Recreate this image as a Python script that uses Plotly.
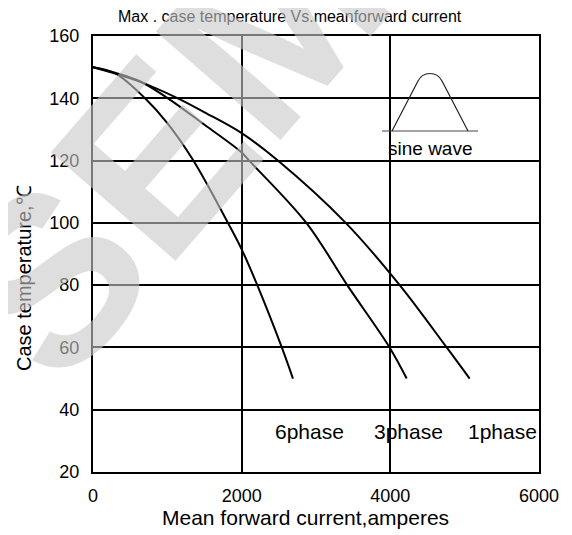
import plotly.graph_objects as go

# ---- data ----
x_6phase = [0, 300, 700, 1000, 1350, 1815, 2000, 2210, 2540, 2690]
y_6phase = [150, 148, 140, 132, 120, 100, 91.5, 80, 60, 50]

x_3phase = [0, 600, 1008, 1500, 2000, 2100, 2870, 3420, 3990, 4220]
y_3phase = [150, 145.8, 140, 131.5, 122.6, 120, 100, 80, 60, 50]

x_1phase = [0, 600, 1142, 1500, 2000, 2487, 3400, 4126, 4758, 5067]
y_1phase = [150, 145.6, 140, 135.5, 128.8, 120, 100, 80, 60, 50]

series_names = ["6phase", "3phase", "1phase"]
label_x = [2919, 4238, 5503]
label_y = [33, 33, 33]

x_ticks = [0, 2000, 4000, 6000]
y_ticks = [20, 40, 60, 80, 100, 120, 140, 160]

# page geometry (the page body adds an 8px offset)
OFF = 8
W, H = 572 - OFF, 535 - OFF
L, R, T, B = 93, 539, 36, 472   # plot area in page pixels

def px(xp):
    return (xp - L) / (R - L)

def py(yp):
    return (B - yp) / (B - T)

REG = "Liberation Sans, Arial, sans-serif"

fig = go.Figure()
for xs, ys, nm in zip([x_6phase, x_3phase, x_1phase],
                      [y_6phase, y_3phase, y_1phase], series_names):
    fig.add_trace(go.Scatter(x=xs, y=ys, mode="lines", name=nm,
                             line=dict(color="black", width=2, shape="spline", smoothing=1.0),
                             showlegend=False, hoverinfo="skip"))

axis_common = dict(showline=True, linecolor="black", linewidth=2, mirror=True,
                   showgrid=True, gridcolor="black", gridwidth=2, zeroline=False,
                   ticks="", tickfont=dict(family=REG, size=18, color="black"))

fig.update_xaxes(range=[0, 6000], tickvals=x_ticks, ticktext=[str(v) for v in x_ticks],
                 ticklabelstandoff=6, **axis_common)
fig.update_yaxes(range=[20, 160], tickvals=y_ticks, ticktext=[str(v) for v in y_ticks],
                 ticklabelstandoff=8, **axis_common)

shapes = []
# white box hiding gridlines behind the inset
shapes.append(dict(type="rect", xref="paper", yref="paper",
                   x0=px(375), x1=px(481), y0=py(157), y1=py(67),
                   fillcolor="white", line=dict(width=0), layer="between"))
# baseline of sine wave inset
shapes.append(dict(type="line", xref="paper", yref="paper",
                   x0=px(382), x1=px(478), y0=py(131), y1=py(131),
                   line=dict(color="#444", width=1)))
pts = [(392, 131), (418, 81), (423, 71), (437, 71), (442, 81), (468, 131)]
p = [(px(a), py(b)) for a, b in pts]
path = (f"M {p[0][0]},{p[0][1]} L {p[1][0]},{p[1][1]} "
        f"C {p[2][0]},{p[2][1]} {p[3][0]},{p[3][1]} {p[4][0]},{p[4][1]} "
        f"L {p[5][0]},{p[5][1]}")
shapes.append(dict(type="path", xref="paper", yref="paper", path=path,
                   line=dict(color="#222", width=1.2)))

annotations = []
annotations.append(dict(text="Max . case temperature Vs.meanforward current",
                        xref="paper", yref="paper", x=px(290), y=py(17),
                        showarrow=False, xanchor="center", yanchor="middle",
                        font=dict(family=REG, size=16, color="black")))
annotations.append(dict(text="Case temperature,℃", xref="paper", yref="paper",
                        x=px(24), y=py(278), showarrow=False, textangle=-90,
                        xanchor="center", yanchor="middle",
                        font=dict(family=REG, size=20, color="black")))
annotations.append(dict(text="Mean forward current,amperes", xref="paper", yref="paper",
                        x=px(305), y=py(518), showarrow=False,
                        xanchor="center", yanchor="middle",
                        font=dict(family=REG, size=21, color="black")))
annotations.append(dict(text="sine wave", xref="paper", yref="paper",
                        x=px(430), y=py(148), showarrow=False,
                        xanchor="center", yanchor="middle",
                        font=dict(family=REG, size=19, color="black")))
for nm, lx, ly in zip(series_names, label_x, label_y):
    annotations.append(dict(text=nm, x=lx, y=ly, xref="x", yref="y", showarrow=False,
                            xanchor="center", yanchor="middle",
                            font=dict(family=REG, size=21, color="black")))
# faint watermark on top
annotations.append(dict(text="<b>SEM</b>", xref="paper", yref="paper",
                        x=px(168), y=py(143), showarrow=False, textangle=-49,
                        xanchor="center", yanchor="middle",
                        font=dict(family=REG, size=240, color="rgba(200,200,200,0.6)")))

fig.update_layout(width=W, height=H,
                  margin=dict(l=L - OFF, r=W - (R - OFF), t=T - OFF, b=H - (B - OFF)),
                  plot_bgcolor="white", paper_bgcolor="white",
                  shapes=shapes, annotations=annotations)

fig.write_html("out.html")
